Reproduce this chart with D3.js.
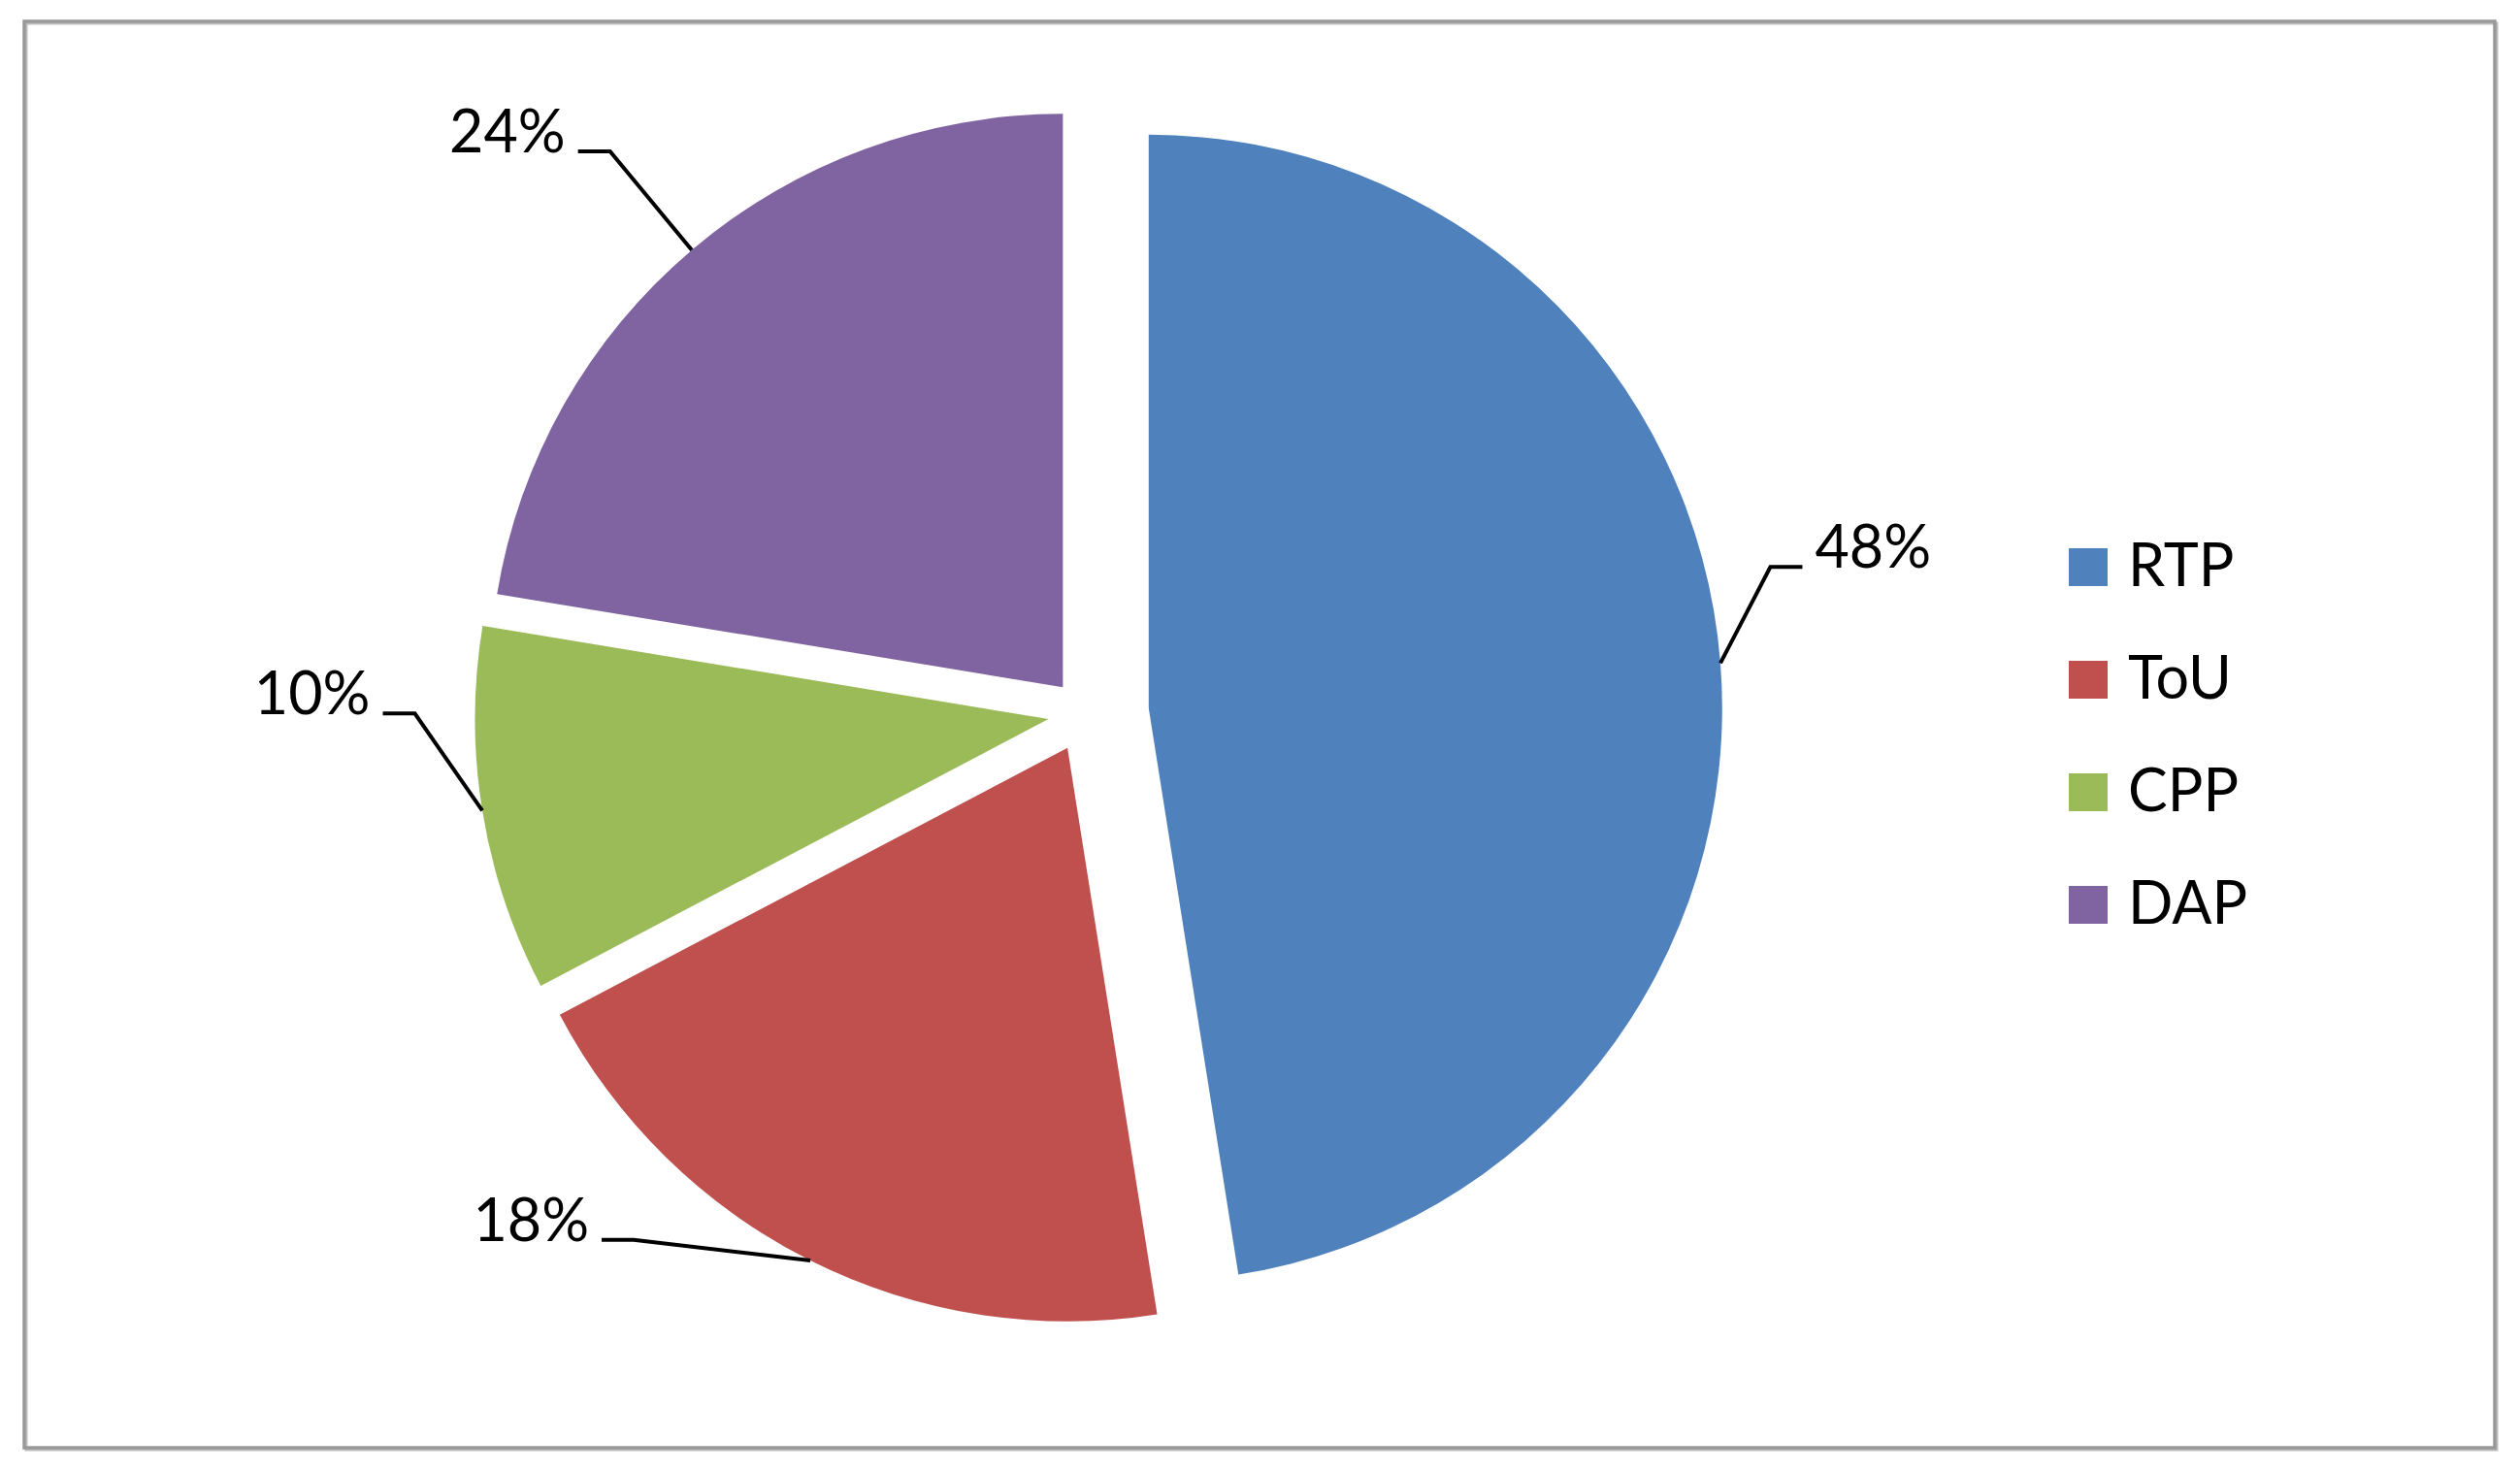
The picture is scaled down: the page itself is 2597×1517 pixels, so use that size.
<!DOCTYPE html>
<html>
<head>
<meta charset="utf-8">
<script src="https://cdn.jsdelivr.net/npm/d3@7"></script>
<style>
  html, body { margin: 0; padding: 0; background: #ffffff; }
  svg { display: block; }
</style>
</head>
<body>
<script>
// ---- data ----
const categories = ["RTP", "ToU", "CPP", "DAP"];
const shares = [47.5, 19.8, 10.3, 22.4];          // slice sizes as drawn
const labelTexts = ["48%", "18%", "10%", "24%"];  // data labels as printed
const colors = ["#4F81BD", "#C0504D", "#9BBB59", "#8064A2"];

// ---- layout ----
const W = 2597, H = 1517;
const cx = 1118, cy = 735, R = 591;
const explode = [66, 40, 38, 35];                    // per-slice explosion
const labelElbow = [[77.2, 657], [221.4, 676], [270.5, 653], [319.8, 723]]; // polar (deg, radius) from slice apex
const labelSide = [1, -1, -1, -1];
const hSeg = 33, textGap = 13;
const fontFamily = "Lato, 'Open Sans', sans-serif";
const fontSize = 61;

const svg = d3.select("body").append("svg")
  .attr("width", W).attr("height", H);

// chart frame
svg.append("rect")
  .attr("x", 27).attr("y", 24).attr("width", 2546).attr("height", 1470)
  .attr("fill", "none").attr("stroke", "#bdbdbd").attr("stroke-width", 3);
svg.append("rect")
  .attr("x", 25).attr("y", 22).attr("width", 2546).attr("height", 1470)
  .attr("fill", "none").attr("stroke", "#999999").attr("stroke-width", 3.5);

const data = categories.map((c, i) => ({ cat: c, value: shares[i], label: labelTexts[i], color: colors[i], i }));

const pie = d3.pie().sort(null).value(d => d.value).startAngle(0).endAngle(2 * Math.PI);
const arc = d3.arc().innerRadius(0).outerRadius(R);
const arcs = pie(data);

const g = svg.append("g").attr("transform", `translate(${cx},${cy})`);

const slices = g.selectAll("g.slice").data(arcs).enter().append("g")
  .attr("class", "slice")
  .attr("transform", d => {
    const m = (d.startAngle + d.endAngle) / 2;
    const e = explode[d.data.i];
    return `translate(${Math.sin(m) * e},${-Math.cos(m) * e})`;
  });

slices.append("path")
  .attr("d", arc)
  .attr("fill", d => d.data.color);

// leader lines + labels
slices.each(function(d) {
  const sel = d3.select(this);
  const i = d.data.i;
  const m = (d.startAngle + d.endAngle) / 2;
  const p0 = [Math.sin(m) * R, -Math.cos(m) * R];
  const a = labelElbow[i][0] * Math.PI / 180, rr = labelElbow[i][1];
  const p1 = [Math.sin(a) * rr, -Math.cos(a) * rr];
  const side = labelSide[i];
  const p2 = [p1[0] + side * hSeg, p1[1]];
  sel.append("path")
    .attr("d", d3.line()([p0, p1, p2]))
    .attr("fill", "none")
    .attr("stroke", "#000")
    .attr("stroke-width", 4)
    .attr("stroke-linejoin", "miter");
  sel.append("text")
    .attr("x", p2[0] + side * textGap)
    .attr("y", p2[1] + 1)
    .attr("text-anchor", side > 0 ? "start" : "end")
    .attr("font-family", fontFamily)
    .attr("font-size", fontSize)
    .attr("fill", "#000")
    .text(d.data.label);
});

// legend
const legend = svg.append("g").attr("transform", "translate(2132,565)");
const lg = legend.selectAll("g").data(data).enter().append("g")
  .attr("transform", (d, i) => `translate(0,${i * 116})`);
lg.append("rect")
  .attr("x", 0).attr("y", 0).attr("width", 40).attr("height", 39)
  .attr("fill", d => d.color);
lg.append("text")
  .attr("x", 61).attr("y", 39)
  .attr("font-family", fontFamily)
  .attr("font-size", fontSize)
  .attr("fill", "#000")
  .text(d => d.cat);
</script>
</body>
</html>
